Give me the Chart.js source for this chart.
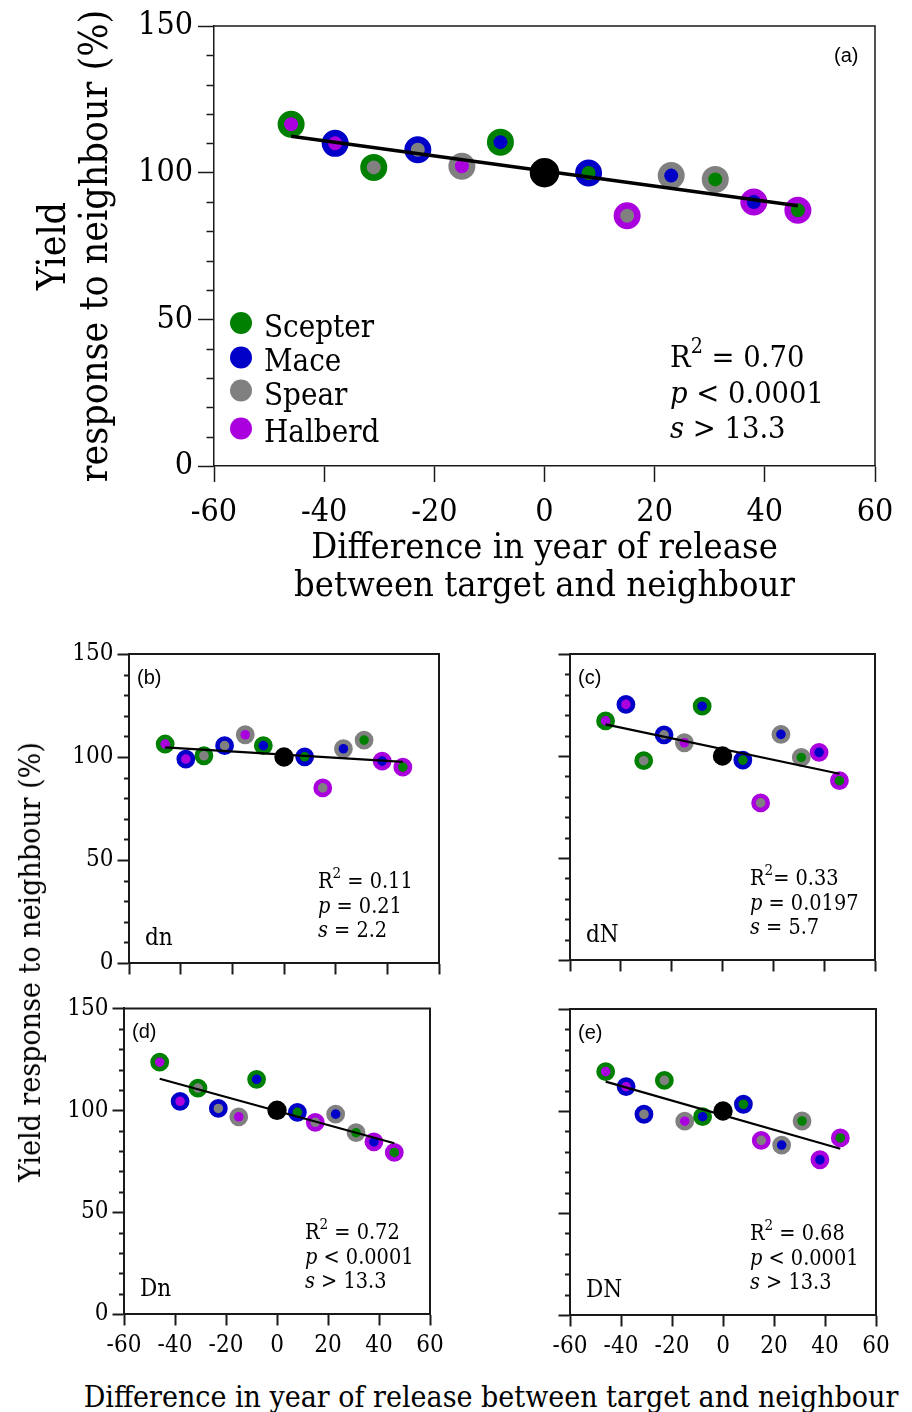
<!DOCTYPE html>
<html>
<head>
<meta charset="utf-8">
<script src="https://cdn.jsdelivr.net/npm/chart.js@4.4.1/dist/chart.umd.min.js"></script>
<style>
  body { margin: 0; background: #fff; width: 912px; height: 1412px; position: relative; overflow: hidden; }
  .panel { position: absolute; }
  .label { position: absolute; white-space: nowrap; color: #000;
           font-family: 'DejaVu Serif Condensed', 'DejaVu Serif', serif; font-size: 30px; line-height: 1; }
</style>
</head>
<body>
<div class="panel" style="left:0;top:0"><canvas id="chartA" width="912" height="612"></canvas></div>
<div class="panel" style="left:40px;top:630px"><canvas id="chartB" width="430" height="360"></canvas></div>
<div class="panel" style="left:480px;top:630px"><canvas id="chartC" width="432" height="360"></canvas></div>
<div class="panel" style="left:40px;top:990px"><canvas id="chartD" width="430" height="380"></canvas></div>
<div class="panel" style="left:480px;top:990px"><canvas id="chartE" width="432" height="380"></canvas></div>
<div class="label" id="sharedY" style="left:30px;top:962px;transform:translate(-50%,-50%) rotate(-90deg)">Yield response to neighbour (%)</div>
<div class="label" id="sharedX" style="left:491px;top:1397px;transform:translate(-50%,-50%)">Difference in year of release between target and neighbour</div>

<script>
// difference in year of release (target - neighbour)
const xDiff = [-46, -38, -31, -23, -15, -8, 0, 8, 15, 23, 31, 38, 46];

const cultivars = ["Scepter", "Mace", "Spear", "Halberd"];
const cultivarColours = ["#008000", "#0000c8", "#808080", "#aa00dd"];

// ring = neighbour, centre = target ("Self" is the reference point)
const ringA = ["Scepter", "Mace", "Scepter", "Mace", "Spear", "Scepter", "Self", "Mace", "Halberd", "Spear", "Spear", "Halberd", "Halberd"];
const centreA = ["Halberd", "Halberd", "Spear", "Spear", "Halberd", "Mace", "Self", "Scepter", "Spear", "Mace", "Scepter", "Mace", "Scepter"];
const ringE = ["Scepter", "Mace", "Mace", "Scepter", "Spear", "Scepter", "Self", "Mace", "Halberd", "Spear", "Spear", "Halberd", "Halberd"];

const yieldA = [116.5, 110, 101.8, 107.8, 102.2, 110.4, 100, 99.9, 85.3, 99, 97.7, 90, 87.2];
const yieldB = [106.3, 99, 100.6, 105.5, 110.8, 105.5, 100, 100.1, 85, 104, 108.2, 98, 95.1];
const yieldC = [117.2, 125.3, 97.7, 110.4, 106.5, 124.4, 100, 98, 77, 110.6, 99.3, 101.8, 87.9];
const yieldD = [123.6, 104.4, 110.9, 100.9, 96.8, 115.2, 100, 99, 94.1, 98.1, 89, 84.5, 79.3];
const yieldE = [119.3, 111.9, 98.4, 115, 95, 97.2, 100, 103.3, 85.6, 83.3, 95.1, 76.1, 86.8];

// fitted regression lines, value at each end of fitX
const fitX = [-46, 46];
const fitA = [112.4, 88.7];
const fitB = [104.7, 97.6];
const fitC = [115.5, 91.3];
const fitD = [115.5, 83.8];
const fitE = [114.4, 81.5];

const r2Values = ["0.70", "0.11", "0.33", "0.72", "0.68"];
const pValues = ["< 0.0001", "= 0.21", "= 0.0197", "< 0.0001", "< 0.0001"];
const sValues = ["> 13.3", "= 2.2", "= 5.7", "> 13.3", "> 13.3"];
const treatments = ["", "dn", "dN", "Dn", "DN"];
const panelLetters = ["(a)", "(b)", "(c)", "(d)", "(e)"];

const xTicks = [-60, -40, -20, 0, 20, 40, 60];
const yMajorTicks = [0, 50, 100, 150];
const yMinorTicks = [10, 20, 30, 40, 60, 70, 80, 90, 110, 120, 130, 140];

const SERIF = "'DejaVu Serif Condensed', 'DejaVu Serif', serif";
const SANS = "'Liberation Sans', Arial, sans-serif";

function colourOf(name) {
  const i = cultivars.indexOf(name);
  return i < 0 ? "#000000" : cultivarColours[i];
}

// frame on top/right and short minor ticks on the y axis
const framePlugin = {
  id: "frame",
  afterDraw(chart, args, opts) {
    const { ctx, chartArea: a } = chart;
    const y = chart.scales.y;
    ctx.save();
    ctx.strokeStyle = "#1a1a1a";
    ctx.lineWidth = opts.width;
    ctx.beginPath();
    ctx.moveTo(a.left, a.top);
    ctx.lineTo(a.right, a.top);
    ctx.lineTo(a.right, a.bottom);
    yMinorTicks.forEach((v) => {
      const py = Math.round(y.getPixelForValue(v)) + 0.5;
      ctx.moveTo(a.left - opts.minor, py);
      ctx.lineTo(a.left, py);
    });
    ctx.stroke();
    ctx.restore();
  },
};

function drawRuns(ctx, x, y, runs, size) {
  runs.forEach((r) => {
    const fs = r.sup ? size * 0.7 : size;
    ctx.font = (r.italic ? "italic " : "") + fs + "px " + SERIF;
    ctx.fillText(r.t, x, r.sup ? y - size * 0.45 : y);
    x += ctx.measureText(r.t).width;
  });
}

// panel letter, treatment, statistics and (for panel a) the legend
const notesPlugin = {
  id: "notes",
  afterDraw(chart, args, o) {
    const { ctx, chartArea: a } = chart;
    const i = o.index;
    ctx.save();
    ctx.fillStyle = "#000";
    ctx.textAlign = "left";
    ctx.font = o.letterSize + "px " + SANS;
    ctx.textBaseline = "middle";
    ctx.fillText(panelLetters[i], o.letterX(a), o.letterY(a));
    ctx.textBaseline = "alphabetic";
    if (treatments[i]) {
      ctx.font = o.treatSize + "px " + SERIF;
      ctx.fillText(treatments[i], a.left + 16, a.bottom - 18);
    }
    const sx = o.statX(a);
    let sy = a.bottom - o.statBottom;
    drawRuns(ctx, sx, sy, [{ t: "R" }, { t: "2", sup: true }, { t: (i === 2 ? "= " : " = ") + r2Values[i] }], o.statSize);
    sy += o.statGap;
    drawRuns(ctx, sx, sy, [{ t: "p", italic: true }, { t: " " + pValues[i] }], o.statSize);
    sy += o.statGap;
    drawRuns(ctx, sx, sy, [{ t: "s", italic: true }, { t: " " + sValues[i] }], o.statSize);
    if (o.legend) {
      const rows = [323, 357.5, 390.5, 428.5];
      const base = [337, 371, 404.5, 442];
      cultivars.forEach((c, k) => {
        ctx.fillStyle = cultivarColours[k];
        ctx.beginPath();
        ctx.arc(241, rows[k], 11, 0, Math.PI * 2);
        ctx.fill();
        ctx.fillStyle = "#000";
        ctx.font = o.legendSize + "px " + SERIF;
        ctx.fillText(c, 264, base[k]);
      });
    }
    ctx.restore();
  },
};

function makePanel(id, index, yields, fit, rings, cfg) {
  const canvas = document.getElementById(id);
  const rect = canvas.parentElement.getBoundingClientRect();
  const area = cfg.area;
  const points = xDiff.map((x, k) => ({ x: x, y: yields[k] }));
  const isSelf = rings.map((r) => r === "Self");
  return new Chart(canvas, {
    type: "scatter",
    data: {
      datasets: [
        {
          type: "line",
          data: fitX.map((x, k) => ({ x: x, y: fit[k] })),
          borderColor: "#000",
          borderWidth: cfg.lineWidth,
          pointRadius: 0,
          fill: false,
          order: 0,
        },
        {
          data: points,
          backgroundColor: centreA.map(colourOf),
          borderColor: rings.map(colourOf),
          borderWidth: cfg.ring,
          pointRadius: isSelf.map((s) => (s ? cfg.selfRadius : cfg.radius)),
          order: 1,
        },
      ],
    },
    options: {
      responsive: false,
      animation: false,
      events: [],
      layout: {
        padding: {
          left: 0,
          top: area.top - rect.top,
          right: rect.left + canvas.width - area.right,
          bottom: 0,
        },
      },
      plugins: {
        legend: { display: false },
        tooltip: { enabled: false },
        frame: { width: cfg.axisWidth, minor: cfg.minorLen },
        notes: Object.assign({ index: index }, cfg.notes),
      },
      scales: {
        x: {
          type: "linear",
          min: -60,
          max: 60,
          afterBuildTicks: (s) => { s.ticks = xTicks.map((v) => ({ value: v })); },
          afterFit: (s) => { s.height = rect.top + canvas.height - area.bottom; },
          grid: { drawOnChartArea: false, tickLength: cfg.majorLen, tickColor: "#1a1a1a", tickWidth: cfg.axisWidth },
          border: { color: "#1a1a1a", width: cfg.axisWidth },
          ticks: {
            display: cfg.xLabels,
            color: "#000",
            padding: cfg.xPad,
            maxRotation: 0,
            font: { family: SERIF, size: cfg.tickSize },
          },
          title: cfg.xTitle
            ? { display: true, text: cfg.xTitle, color: "#000", padding: { top: 0, bottom: 6 }, font: { family: SERIF, size: 36, lineHeight: 1.055 } }
            : { display: false },
        },
        y: {
          type: "linear",
          min: 0,
          max: 150,
          afterBuildTicks: (s) => { s.ticks = yMajorTicks.map((v) => ({ value: v })); },
          afterFit: (s) => { s.width = area.left - rect.left; },
          grid: { drawOnChartArea: false, tickLength: cfg.majorLen, tickColor: "#1a1a1a", tickWidth: cfg.axisWidth },
          border: { color: "#1a1a1a", width: cfg.axisWidth },
          ticks: {
            display: cfg.yLabels,
            color: "#000",
            padding: cfg.yPad,
            font: { family: SERIF, size: cfg.tickSize },
          },
          title: cfg.yTitle
            ? { display: true, text: cfg.yTitle, color: "#000", padding: { top: 34, bottom: 0 }, font: { family: SERIF, size: 39, lineHeight: 1.077 } }
            : { display: false },
        },
      },
    },
    plugins: [framePlugin, notesPlugin],
  });
}

const smallNotes = {
  letterSize: 20,
  letterX: (a) => a.left + 8,
  letterY: (a) => a.top + 24,
  treatSize: 24,
  statSize: 21.5,
  statBottom: 75,
  statGap: 24.5,
};

makePanel("chartA", 0, yieldA, fitA, ringA, {
  area: { left: 214, right: 875, top: 26, bottom: 466 },
  lineWidth: 3.5, ring: 6.5, radius: 10.25, selfRadius: 11.5,
  axisWidth: 1.5, majorLen: 16, minorLen: 7.5,
  xLabels: true, yLabels: true, tickSize: 32, xPad: 11, yPad: 5,
  xTitle: ["Difference in year of release", "between target and neighbour"],
  yTitle: ["Yield", "response to neighbour (%)"],
  notes: {
    letterSize: 20,
    letterX: (a) => a.right - 41,
    letterY: (a) => a.top + 30,
    treatSize: 24,
    statSize: 30.5,
    statX: (a) => a.right - 205,
    statBottom: 99,
    statGap: 35.5,
    legend: true,
    legendSize: 31,
  },
});

makePanel("chartB", 1, yieldB, fitB, ringA, {
  area: { left: 129, right: 439, top: 654, bottom: 963 },
  lineWidth: 2.2, ring: 4.6, radius: 7.1, selfRadius: 7.4,
  axisWidth: 2, majorLen: 11.5, minorLen: 5,
  xLabels: false, yLabels: true, tickSize: 24, xPad: 6, yPad: 4,
  notes: Object.assign({ statX: (a) => a.left + 189 }, smallNotes),
});

makePanel("chartC", 2, yieldC, fitC, ringA, {
  area: { left: 570, right: 875, top: 654, bottom: 960 },
  lineWidth: 2.2, ring: 4.6, radius: 7.1, selfRadius: 7.4,
  axisWidth: 2, majorLen: 11.5, minorLen: 5,
  xLabels: false, yLabels: false, tickSize: 24, xPad: 6, yPad: 4,
  notes: Object.assign({ statX: (a) => a.left + 180 }, smallNotes),
});

makePanel("chartD", 3, yieldD, fitD, ringA, {
  area: { left: 124, right: 430, top: 1008, bottom: 1314 },
  lineWidth: 2.2, ring: 4.6, radius: 7.1, selfRadius: 7.4,
  axisWidth: 2, majorLen: 11.5, minorLen: 5,
  xLabels: true, yLabels: true, tickSize: 24, xPad: 6, yPad: 4,
  notes: Object.assign({ statX: (a) => a.left + 181 }, smallNotes),
});

makePanel("chartE", 4, yieldE, fitE, ringE, {
  area: { left: 570, right: 876, top: 1009, bottom: 1315 },
  lineWidth: 2.2, ring: 4.6, radius: 7.1, selfRadius: 7.4,
  axisWidth: 2, majorLen: 11.5, minorLen: 5,
  xLabels: true, yLabels: false, tickSize: 24, xPad: 6, yPad: 4,
  notes: Object.assign({ statX: (a) => a.left + 180 }, smallNotes),
});
</script>
</body>
</html>
